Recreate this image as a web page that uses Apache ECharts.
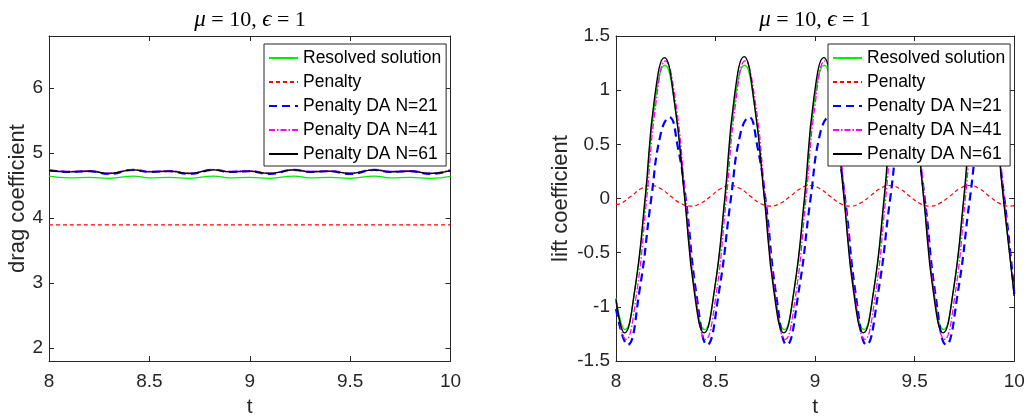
<!DOCTYPE html>
<html><head><meta charset="utf-8">
<script src="https://cdn.jsdelivr.net/npm/echarts@6/dist/echarts.min.js"></script>
<style>html,body{margin:0;padding:0;background:#fff}#c{width:1026px;height:417px}</style>
</head><body><div id="c"></div>
<script>
// ---------- data ----------
const seriesNames = ['Resolved solution', 'Penalty', 'Penalty DA N=21', 'Penalty DA N=41', 'Penalty DA N=61'];
const xTicks = [8, 8.5, 9, 9.5, 10];
const dragTicks = [2, 3, 4, 5, 6];
const liftTicks = [-1.5, -1, -0.5, 0, 0.5, 1, 1.5];

// drag coefficient (left)
const dragT       = [8.00, 8.10, 8.20, 8.30, 8.42, 8.50, 8.60, 8.70, 8.82, 8.90, 9.00, 9.10, 9.22, 9.30, 9.40, 9.50, 9.62, 9.70, 9.80, 9.90, 10.00];
const dragResolved= [4.645,4.618,4.625,4.610,4.645,4.618,4.625,4.610,4.645,4.618,4.625,4.610,4.645,4.618,4.625,4.610,4.645,4.618,4.625,4.610,4.640];
const dragN21     = [4.735,4.710,4.720,4.678,4.740,4.710,4.720,4.678,4.740,4.710,4.720,4.678,4.740,4.710,4.720,4.678,4.740,4.710,4.720,4.678,4.735];
const dragN41     = [4.740,4.718,4.726,4.690,4.745,4.718,4.726,4.690,4.745,4.718,4.726,4.690,4.745,4.718,4.726,4.690,4.745,4.718,4.726,4.690,4.740];
const dragN61     = [4.730,4.710,4.720,4.685,4.740,4.710,4.720,4.685,4.740,4.710,4.720,4.685,4.740,4.710,4.720,4.685,4.740,4.710,4.720,4.685,4.730];
const dragPenaltyT = [8.0, 8.5, 9.0, 9.5, 10.0];
const dragPenalty  = [3.895, 3.895, 3.895, 3.895, 3.895];

// lift coefficient (right)
const liftResolvedT = [8.000, 8.045, 8.095, 8.148, 8.195, 8.245, 8.295, 8.347, 8.395,
  8.445, 8.495, 8.548, 8.595, 8.645, 8.695, 8.747, 8.795,
  8.845, 8.895, 8.948, 8.995, 9.045, 9.095, 9.147, 9.195,
  9.245, 9.295, 9.348, 9.395, 9.445, 9.495, 9.547, 9.595,
  9.645, 9.695, 9.748, 9.795, 9.845, 9.895, 9.947, 10.000];
const liftResolved = [-0.92, -1.21, -0.84, 0.00, 0.88, 1.23, 0.86, -0.02, -0.84,
  -1.21, -0.84, 0.00, 0.88, 1.23, 0.86, -0.02, -0.84,
  -1.21, -0.84, 0.00, 0.88, 1.23, 0.86, -0.02, -0.84,
  -1.21, -0.84, 0.00, 0.88, 1.23, 0.86, -0.02, -0.84,
  -1.21, -0.84, 0.00, 0.88, 1.23, 0.86, -0.02, -0.90];

const liftPenaltyT = [8.000, 8.025, 8.075, 8.125, 8.175, 8.225, 8.275, 8.325,
  8.375, 8.425, 8.475, 8.525, 8.575, 8.625, 8.675, 8.725,
  8.775, 8.825, 8.875, 8.925, 8.975, 9.025, 9.075, 9.125,
  9.175, 9.225, 9.275, 9.325, 9.375, 9.425, 9.475, 9.525,
  9.575, 9.625, 9.675, 9.725, 9.775, 9.825, 9.875, 9.925, 9.975, 10.000];
const liftPenalty = [-0.055, -0.045, 0.020, 0.090, 0.120, 0.090, 0.020, -0.045,
  -0.070, -0.045, 0.020, 0.090, 0.120, 0.090, 0.020, -0.045,
  -0.070, -0.045, 0.020, 0.090, 0.120, 0.090, 0.020, -0.045,
  -0.070, -0.045, 0.020, 0.090, 0.120, 0.090, 0.020, -0.045,
  -0.070, -0.045, 0.020, 0.090, 0.120, 0.090, 0.020, -0.045, -0.070, -0.065];

const liftN21T = [8.000, 8.058, 8.118, 8.177, 8.225, 8.268, 8.310, 8.350, 8.405,
  8.458, 8.518, 8.577, 8.625, 8.668, 8.710, 8.750, 8.805,
  8.858, 8.918, 8.977, 9.025, 9.068, 9.110, 9.150, 9.205,
  9.258, 9.318, 9.377, 9.425, 9.468, 9.510, 9.550, 9.605,
  9.658, 9.718, 9.777, 9.825, 9.868, 9.910, 9.950, 10.000];
const liftN21 = [-1.02, -1.35, -0.85, 0.00, 0.60, 0.75, 0.48, 0.00, -0.90,
  -1.35, -0.85, 0.00, 0.60, 0.75, 0.48, 0.00, -0.90,
  -1.35, -0.85, 0.00, 0.60, 0.75, 0.48, 0.00, -0.90,
  -1.35, -0.85, 0.00, 0.60, 0.75, 0.48, 0.00, -0.90,
  -1.35, -0.85, 0.00, 0.60, 0.75, 0.48, 0.00, -0.88];

const liftN41T = [8.000, 8.050, 8.100, 8.153, 8.200, 8.248, 8.298, 8.350, 8.400,
  8.450, 8.500, 8.553, 8.600, 8.648, 8.698, 8.750, 8.800,
  8.850, 8.900, 8.953, 9.000, 9.048, 9.098, 9.150, 9.200,
  9.250, 9.300, 9.353, 9.400, 9.448, 9.498, 9.550, 9.600,
  9.650, 9.700, 9.753, 9.800, 9.848, 9.898, 9.950, 10.000];
const liftN41 = [-0.95, -1.30, -0.92, -0.02, 0.87, 1.27, 0.91, -0.01, -0.90,
  -1.30, -0.92, -0.02, 0.87, 1.27, 0.91, -0.01, -0.90,
  -1.30, -0.92, -0.02, 0.87, 1.27, 0.91, -0.01, -0.90,
  -1.30, -0.92, -0.02, 0.87, 1.27, 0.91, -0.01, -0.90,
  -1.30, -0.92, -0.02, 0.87, 1.27, 0.91, -0.01, -0.90];

const liftN61T = [8.000, 8.043, 8.093, 8.146, 8.193, 8.243, 8.293, 8.345, 8.393,
  8.443, 8.493, 8.546, 8.593, 8.643, 8.693, 8.745, 8.793,
  8.843, 8.893, 8.946, 8.993, 9.043, 9.093, 9.145, 9.193,
  9.243, 9.293, 9.346, 9.393, 9.443, 9.493, 9.545, 9.593,
  9.643, 9.693, 9.746, 9.793, 9.843, 9.893, 9.945, 10.000];
const liftN61 = [-0.93, -1.24, -0.86, 0.00, 0.92, 1.30, 0.90, 0.00, -0.86,
  -1.24, -0.86, 0.00, 0.92, 1.31, 0.90, 0.00, -0.86,
  -1.24, -0.86, 0.00, 0.92, 1.30, 0.90, 0.00, -0.86,
  -1.24, -0.86, 0.00, 0.92, 1.30, 0.90, 0.00, -0.86,
  -1.24, -0.86, 0.00, 0.92, 1.30, 0.90, 0.00, -0.90];

// ---------- chart ----------
const zip = (t, v) => t.map((x, i) => [x, v[i]]);
const AX = '#262626';
const FONT = 'Liberation Sans';

const styles = [
  { color: '#00ee00', width: 1.3, type: 'solid' },
  { color: '#ff0000', width: 1.2, type: [4, 3] },
  { color: '#0000ff', width: 2.2, type: [8, 5] },
  { color: '#ff00ff', width: 1.3, type: [6, 2, 1.5, 2] },
  { color: '#000000', width: 1.4, type: 'solid' }
];

function mkSeries(name, idx, data, axisIdx) {
  const s = styles[idx];
  return {
    name, type: 'line', data, xAxisIndex: axisIdx, yAxisIndex: axisIdx,
    symbol: 'none', smooth: 0.5,
    lineStyle: { color: s.color, width: s.width, type: s.type },
    itemStyle: { color: s.color }, z: 2 + idx, animation: false
  };
}

function xAx(gridIndex, pos, labels) {
  return {
    type: 'value', gridIndex, position: pos, min: 8, max: 10, interval: 0.5,
    axisLine: { show: true, onZero: false, lineStyle: { color: AX, width: 1 } },
    axisTick: { show: true, inside: true, length: 5, lineStyle: { color: AX } },
    axisLabel: { show: labels, margin: 11, color: AX, fontFamily: FONT, fontSize: 19 },
    splitLine: { show: false },
    name: labels ? 't' : '', nameLocation: 'middle', nameGap: 36,
    nameTextStyle: { color: AX, fontFamily: FONT, fontSize: 21 }
  };
}
function yAx(gridIndex, pos, labels, min, max, ticks, name, nameGap) {
  return {
    type: 'value', gridIndex, position: pos, min, max,
    axisLine: { show: true, onZero: false, lineStyle: { color: AX, width: 1 } },
    axisTick: { show: true, inside: true, length: 5, lineStyle: { color: AX }, customValues: ticks },
    axisLabel: { show: labels, margin: 6, color: AX, fontFamily: FONT, fontSize: 19, customValues: ticks },
    splitLine: { show: false },
    name: labels ? name : '', nameLocation: 'middle', nameGap, nameRotate: 90,
    nameTextStyle: { color: AX, fontFamily: FONT, fontSize: 22 }
  };
}

function legendAt(left, top) {
  return {
    data: seriesNames, orient: 'vertical', left, top,
    padding: [5, 5, 3, 4], itemGap: 6, itemWidth: 29, itemHeight: 17,
    backgroundColor: '#ffffff', borderColor: AX, borderWidth: 1, borderRadius: 0,
    itemStyle: { color: 'rgba(0,0,0,0)', borderWidth: 0, opacity: 0 },
    textStyle: { fontFamily: FONT, fontSize: 17.5, color: '#000' },
    selectedMode: false, z: 20
  };
}

function titleText(cx) {
  return {
    type: 'text', x: cx, y: 20, z: 30,
    style: {
      text: '{i|μ} = 10, {i|ϵ} = 1',
      textAlign: 'center', textVerticalAlign: 'middle',
      font: '22px "Liberation Serif"', fill: '#000',
      rich: { i: { fontStyle: 'italic', fontFamily: 'Liberation Serif', fontSize: 23 } }
    }
  };
}

const option = {
  backgroundColor: '#fff',
  animation: false,
  grid: [
    { left: 49, top: 36, width: 401.5, height: 325, outerBoundsMode: 'none', containLabel: false },
    { left: 616, top: 36, width: 398.3, height: 325, outerBoundsMode: 'none', containLabel: false }
  ],
  xAxis: [xAx(0, 'bottom', true), xAx(0, 'top', false), xAx(1, 'bottom', true), xAx(1, 'top', false)],
  yAxis: [
    yAx(0, 'left', true, 1.8, 6.8, dragTicks, 'drag coefficient', 20),
    yAx(0, 'right', false, 1.8, 6.8, dragTicks, '', 0),
    yAx(1, 'left', true, -1.5, 1.5, liftTicks, 'lift coefficient', 44),
    yAx(1, 'right', false, -1.5, 1.5, liftTicks, '', 0)
  ],
  legend: [legendAt(264, 44), legendAt(828, 44)],
  graphic: [titleText(250), titleText(815)],
  series: [
    mkSeries(seriesNames[0], 0, zip(dragT, dragResolved), 0),
    mkSeries(seriesNames[1], 1, zip(dragPenaltyT, dragPenalty), 0),
    mkSeries(seriesNames[2], 2, zip(dragT, dragN21), 0),
    mkSeries(seriesNames[3], 3, zip(dragT, dragN41), 0),
    mkSeries(seriesNames[4], 4, zip(dragT, dragN61), 0),
    mkSeries(seriesNames[0], 0, zip(liftResolvedT, liftResolved), 2),
    mkSeries(seriesNames[1], 1, zip(liftPenaltyT, liftPenalty), 2),
    mkSeries(seriesNames[2], 2, zip(liftN21T, liftN21), 2),
    mkSeries(seriesNames[3], 3, zip(liftN41T, liftN41), 2),
    mkSeries(seriesNames[4], 4, zip(liftN61T, liftN61), 2)
  ]
};
const chart = echarts.init(document.getElementById('c'), null, { renderer: 'canvas' });
chart.setOption(option);
</script></body></html>
